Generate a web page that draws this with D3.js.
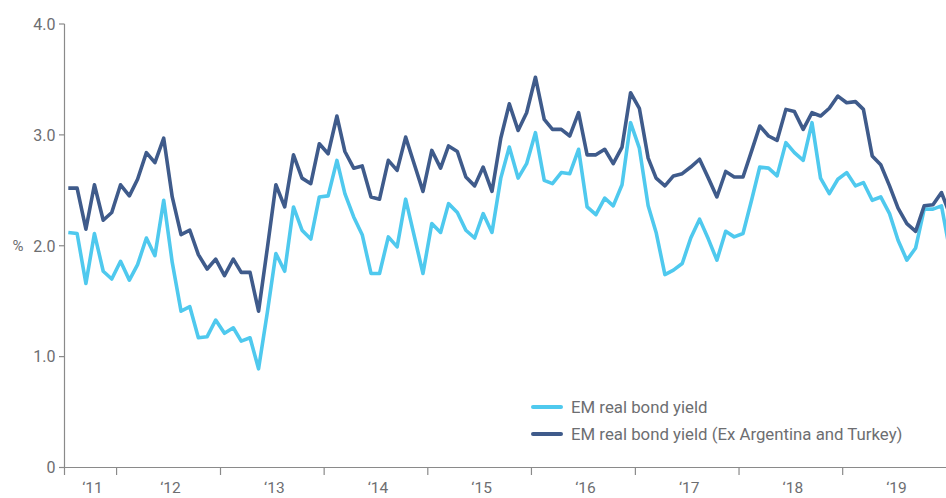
<!DOCTYPE html>
<html>
<head>
<meta charset="utf-8">
<script src="https://cdn.jsdelivr.net/npm/d3@7"></script>
<style>
  html, body { margin: 0; padding: 0; background: #fff; }
  svg { display: block; }
  text { font-family: Roboto, "Liberation Sans", sans-serif; fill: #6d6e71; }
</style>
</head>
<body>
<svg id="chart" width="946" height="498"></svg>
<script>
// ---- data (monthly, first point Jul 2011) ----
const startMonth = [2011, 6]; // July 2011 (0-based month)
const seriesNames = ["EM real bond yield", "EM real bond yield (Ex Argentina and Turkey)"];
const emYield = [
  2.12,2.11,1.66,2.11,1.77,1.70,1.86,1.69,1.83,2.07,1.91,2.41,
  1.85,1.41,1.45,1.17,1.18,1.33,1.21,1.26,1.14,1.17,0.89,1.40,
  1.93,1.77,2.35,2.14,2.06,2.44,2.45,2.77,2.47,2.26,2.10,1.75,
  1.75,2.08,1.99,2.42,2.08,1.75,2.20,2.12,2.38,2.30,2.14,2.07,
  2.29,2.12,2.61,2.89,2.61,2.74,3.02,2.59,2.56,2.66,2.65,2.87,
  2.35,2.28,2.43,2.36,2.55,3.11,2.88,2.36,2.12,1.74,1.78,1.84,
  2.07,2.24,2.06,1.87,2.13,2.08,2.11,2.42,2.71,2.70,2.63,2.93,
  2.84,2.77,3.11,2.61,2.47,2.60,2.66,2.54,2.57,2.41,2.44,2.29,
  2.05,1.87,1.98,2.33,2.33,2.36,1.93
];
const emYieldExArgTur = [
  2.52,2.52,2.15,2.55,2.23,2.30,2.55,2.45,2.60,2.84,2.75,2.97,
  2.44,2.10,2.14,1.92,1.79,1.88,1.73,1.88,1.76,1.76,1.41,1.98,
  2.55,2.35,2.82,2.61,2.56,2.92,2.83,3.17,2.85,2.70,2.72,2.44,
  2.42,2.77,2.68,2.98,2.73,2.49,2.86,2.70,2.90,2.85,2.62,2.54,
  2.71,2.49,2.97,3.28,3.04,3.20,3.52,3.14,3.05,3.05,2.99,3.20,
  2.82,2.82,2.87,2.74,2.89,3.38,3.24,2.79,2.61,2.54,2.63,2.65,
  2.71,2.78,2.61,2.44,2.67,2.62,2.62,2.86,3.08,2.99,2.95,3.23,
  3.21,3.05,3.20,3.17,3.24,3.35,3.29,3.30,3.23,2.81,2.73,2.54,
  2.34,2.20,2.13,2.36,2.37,2.48,2.27
];
const yTicks = [0, 1, 2, 3, 4];
const yTickLabels = ["0", "1.0", "2.0", "3.0", "4.0"];
const yearTicks = [2012, 2013, 2014, 2015, 2016, 2017, 2018, 2019];
const yearLabels = [2011, 2012, 2013, 2014, 2015, 2016, 2017, 2018, 2019];
const colors = ["#4fc9ee", "#3f5b8b"];

// ---- layout ----
const W = 946, H = 498;
const axisX = 64.5, axisY = 467.5, plotTop = 24;

const dates = emYield.map((_, i) => new Date(startMonth[0], startMonth[1] + i, 15));

const x = d3.scaleTime()
  .domain([new Date(2011, 6, 15), new Date(2019, 11, 15)])
  .range([68.3, 941.5]);
const y = d3.scaleLinear().domain([0, 4]).range([axisY, plotTop]);

const svg = d3.select("#chart");

svg.append("clipPath").attr("id", "plotclip")
  .append("rect").attr("x", axisX).attr("y", 0).attr("width", W - axisX).attr("height", H);

// y axis
const gy = svg.append("g");
gy.append("line").attr("x1", axisX).attr("x2", axisX).attr("y1", plotTop).attr("y2", axisY + 7.5)
  .attr("stroke", "#8a8a8a").attr("stroke-width", 1.2);
gy.selectAll("line.yt").data(yTicks).join("line").attr("class", "yt")
  .attr("x1", axisX - 5.5).attr("x2", axisX).attr("y1", d => y(d)).attr("y2", d => y(d))
  .attr("stroke", "#8a8a8a").attr("stroke-width", 1.2);
gy.selectAll("text").data(yTicks).join("text")
  .attr("x", 55.5).attr("y", d => y(d)).attr("dy", "0.36em")
  .attr("text-anchor", "end").attr("font-size", 16)
  .text((d, i) => yTickLabels[i]);
svg.append("text").attr("x", 18).attr("y", y(2)).attr("dy", "0.36em")
  .attr("text-anchor", "middle").attr("font-size", 15).text("%");

// x axis
const gx = svg.append("g");
gx.append("line").attr("x1", axisX).attr("x2", W).attr("y1", axisY).attr("y2", axisY)
  .attr("stroke", "#8a8a8a").attr("stroke-width", 1.2);
gx.selectAll("line.xt").data(yearTicks).join("line").attr("class", "xt")
  .attr("x1", d => x(new Date(d, 0, 1))).attr("x2", d => x(new Date(d, 0, 1)))
  .attr("y1", axisY).attr("y2", axisY + 7.5)
  .attr("stroke", "#8a8a8a").attr("stroke-width", 1.2);
gx.selectAll("text").data(yearLabels).join("text")
  .attr("x", d => (Math.max(axisX, x(new Date(d, 0, 1))) + x(new Date(d + 1, 0, 1))) / 2 + 2)
  .attr("y", 493).attr("text-anchor", "middle").attr("font-size", 15.5)
  .text(d => "\u2018" + String(d).slice(2));

// lines
const line = d3.line().x((d, i) => x(dates[i])).y(d => y(d));
const g = svg.append("g").attr("clip-path", "url(#plotclip)");
[emYield, emYieldExArgTur].forEach((s, i) => {
  g.append("path").datum(s).attr("d", line)
    .attr("fill", "none").attr("stroke", colors[i]).attr("stroke-width", 3.6)
    .attr("stroke-linejoin", "round");
});

// legend
const lg = svg.append("g");
seriesNames.forEach((name, i) => {
  const ly = 407 + i * 27;
  lg.append("line").attr("x1", 533).attr("x2", 561).attr("y1", ly).attr("y2", ly)
    .attr("stroke", colors[i]).attr("stroke-width", 4).attr("stroke-linecap", "round");
  lg.append("text").attr("x", 571).attr("y", ly).attr("dy", "0.36em")
    .attr("font-size", 16.8).text(name);
});
</script>
</body>
</html>
